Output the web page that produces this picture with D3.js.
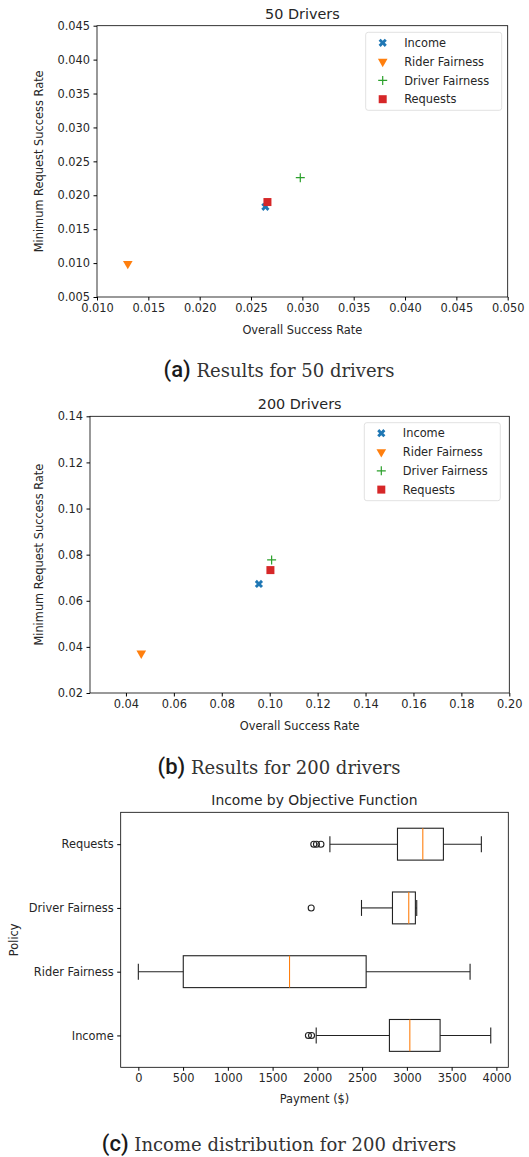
<!DOCTYPE html>
<html>
<head>
<meta charset="utf-8">
<script src="https://cdn.jsdelivr.net/npm/d3@7"></script>
<style>
  body { margin: 0; background: #fff; }
  svg text { font-family: "DejaVu Sans", sans-serif; fill: #262626; }
  .cap text { fill: #1a1a1a; }
</style>
</head>
<body>
<svg id="fig" width="529" height="1157"></svg>
<script>
// data
var policies = ["Income", "Rider Fairness", "Driver Fairness", "Requests"];
var colors = ["#1f77b4", "#ff7f0e", "#2ca02c", "#d62728"];
var shapes = ["X", "v", "+", "s"];

// 50 drivers: overall rate, min request rate
var overall50 = [0.0264, 0.0130, 0.0298, 0.0266];
var minreq50 = [0.0183, 0.0099, 0.0226, 0.0190];
var xticks50 = [0.010, 0.015, 0.020, 0.025, 0.030, 0.035, 0.040, 0.045, 0.050];
var yticks50 = [0.005, 0.010, 0.015, 0.020, 0.025, 0.030, 0.035, 0.040, 0.045];

// 200 drivers
var overall200 = [0.0955, 0.0464, 0.1008, 0.1003];
var minreq200 = [0.0673, 0.0372, 0.0777, 0.0733];
var xticks200 = [0.04, 0.06, 0.08, 0.10, 0.12, 0.14, 0.16, 0.18, 0.20];
var yticks200 = [0.02, 0.04, 0.06, 0.08, 0.10, 0.12, 0.14];

// box plot (bottom to top): whiskerLo, q1, median, q3, whiskerHi
var boxPolicies = ["Income", "Rider Fairness", "Driver Fairness", "Requests"];
var whiskLo = [1987, 0, 2493, 2140];
var q1 = [2805, 502, 2839, 2895];
var med = [3033, 1689, 3021, 3178];
var q3 = [3371, 2545, 3095, 3408];
var whiskHi = [3937, 3706, 3110, 3832];
var fliers = [[1900, 1935], [], [1931], [1960, 1990, 2040]];
var payTicks = [0, 500, 1000, 1500, 2000, 2500, 3000, 3500, 4000];

var fs = 11.4;   // tick / label size
var svg = d3.select("#fig");

function marker(g, shape, color, x, y) {
  if (shape == "X") {
    g.append("path").attr("transform", "translate(" + x + "," + y + ") rotate(45)")
      .attr("d", d3.symbol().type(d3.symbolCross).size(42)()).attr("fill", color);
  } else if (shape == "v") {
    g.append("path").attr("transform", "translate(" + x + "," + y + ") rotate(180)")
      .attr("d", d3.symbol().type(d3.symbolTriangle).size(40)()).attr("fill", color);
  } else if (shape == "+") {
    g.append("path").attr("d", "M" + (x - 4.5) + "," + y + "H" + (x + 4.5) + "M" + x + "," + (y - 4.5) + "V" + (y + 4.5))
      .attr("stroke", color).attr("stroke-width", 1.2).attr("fill", "none");
  } else {
    g.append("rect").attr("x", x - 4).attr("y", y - 4).attr("width", 8).attr("height", 8).attr("fill", color);
  }
}

function scatterPanel(o) {
  var g = svg.append("g");
  var x = d3.scaleLinear().domain(o.xdom).range([o.left, o.right]);
  var y = d3.scaleLinear().domain(o.ydom).range([o.bottom, o.top]);

  g.append("g").attr("transform", "translate(0," + o.bottom + ")")
    .call(d3.axisBottom(x).tickValues(o.xticks).tickFormat(d3.format(o.xfmt)).tickSizeOuter(0).tickSize(3.5).tickPadding(3));
  g.append("g").attr("transform", "translate(" + o.left + ",0)")
    .call(d3.axisLeft(y).tickValues(o.yticks).tickFormat(d3.format(o.yfmt)).tickSizeOuter(0).tickSize(3.5).tickPadding(3.5));
  g.selectAll(".tick text").attr("font-size", fs).attr("font-family", "DejaVu Sans").attr("fill", "#262626");
  g.selectAll(".domain").remove();
  g.append("rect").attr("x", o.left).attr("y", o.top).attr("width", o.right - o.left).attr("height", o.bottom - o.top)
    .attr("fill", "none").attr("stroke", "#000").attr("stroke-width", 0.8);

  g.append("text").attr("x", (o.left + o.right) / 2).attr("y", o.top - 7).attr("text-anchor", "middle")
    .attr("font-size", 14.4).text(o.title);
  g.append("text").attr("x", (o.left + o.right) / 2).attr("y", o.bottom + 37).attr("text-anchor", "middle")
    .attr("font-size", fs).text("Overall Success Rate");
  g.append("text").attr("transform", "translate(" + o.ylx + "," + ((o.top + o.bottom) / 2) + ") rotate(-90)")
    .attr("text-anchor", "middle").attr("font-size", fs).text("Minimum Request Success Rate");

  // points
  policies.forEach(function(p, i) {
    marker(g, shapes[i], colors[i], x(o.xs[i]), y(o.ys[i]));
  });

  // legend
  var lg = g.append("g");
  lg.append("rect").attr("x", o.legX).attr("y", o.legY).attr("width", 136).attr("height", 78)
    .attr("rx", 2.5).attr("fill", "#fff").attr("fill-opacity", 0.8).attr("stroke", "#d9d9d9").attr("stroke-width", 0.8);
  policies.forEach(function(p, i) {
    var ly = o.legY + 10.5 + i * 18.8;
    marker(lg, shapes[i], colors[i], o.legX + 17, ly);
    lg.append("text").attr("x", o.legX + 38.5).attr("y", ly + 4.2).attr("font-size", fs).text(p);
  });
}

scatterPanel({
  title: "50 Drivers", left: 97, right: 507.7, top: 25.7, bottom: 297,
  xdom: [0.010, 0.050], ydom: [0.005, 0.045], xticks: xticks50, yticks: yticks50,
  xfmt: ".3f", yfmt: ".3f", xs: overall50, ys: minreq50, ylx: 43, legX: 365.7, legY: 32.3
});

scatterPanel({
  title: "200 Drivers", left: 90, right: 509.3, top: 416.3, bottom: 693,
  xdom: [0.025, 0.20], ydom: [0.02, 0.14], xticks: xticks200, yticks: yticks200,
  xfmt: ".2f", yfmt: ".2f", xs: overall200, ys: minreq200, ylx: 43, legX: 364.3, legY: 422.7
});

// box plot
var bl = 120.7, br = 508.3, bt = 812.3, bb = 1067.3;
var bx = d3.scaleLinear().domain([-197, 4133]).range([bl, br]);
var by = d3.scaleLinear().domain([0.5, 4.5]).range([bb, bt]);
var bg = svg.append("g");

bg.append("g").attr("transform", "translate(0," + bb + ")")
  .call(d3.axisBottom(bx).tickValues(payTicks).tickFormat(d3.format("d")).tickSizeOuter(0).tickSize(3.5).tickPadding(3));
bg.append("g").attr("transform", "translate(" + bl + ",0)")
  .call(d3.axisLeft(by).tickValues([1, 2, 3, 4]).tickFormat(function(d) { return boxPolicies[d - 1]; }).tickSizeOuter(0).tickSize(3.5).tickPadding(3.5));
bg.selectAll(".tick text").attr("font-size", fs).attr("font-family", "DejaVu Sans").attr("fill", "#262626");
bg.selectAll(".domain").remove();
bg.append("rect").attr("x", bl).attr("y", bt).attr("width", br - bl).attr("height", bb - bt)
  .attr("fill", "none").attr("stroke", "#000").attr("stroke-width", 0.8);

var bh = (by(0) - by(0.25));
boxPolicies.forEach(function(p, i) {
  var cy = by(i + 1);
  var line = function(x1, y1, x2, y2, c, w) {
    bg.append("line").attr("x1", x1).attr("y1", y1).attr("x2", x2).attr("y2", y2)
      .attr("stroke", c || "#222").attr("stroke-width", w || 1.1);
  };
  line(bx(whiskLo[i]), cy, bx(q1[i]), cy);
  line(bx(q3[i]), cy, bx(whiskHi[i]), cy);
  line(bx(whiskLo[i]), cy - bh / 2, bx(whiskLo[i]), cy + bh / 2);
  line(bx(whiskHi[i]), cy - bh / 2, bx(whiskHi[i]), cy + bh / 2);
  bg.append("rect").attr("x", bx(q1[i])).attr("y", cy - bh).attr("width", bx(q3[i]) - bx(q1[i])).attr("height", 2 * bh)
    .attr("fill", "none").attr("stroke", "#222").attr("stroke-width", 1.1);
  line(bx(med[i]), cy - bh, bx(med[i]), cy + bh, "#ff7f0e", 1.1);
  fliers[i].forEach(function(f) {
    bg.append("circle").attr("cx", bx(f)).attr("cy", cy).attr("r", 3)
      .attr("fill", "none").attr("stroke", "#222").attr("stroke-width", 1.1);
  });
});

bg.append("text").attr("x", (bl + br) / 2).attr("y", bt - 7).attr("text-anchor", "middle")
  .attr("font-size", 13.9).text("Income by Objective Function");
bg.append("text").attr("x", (bl + br) / 2).attr("y", bb + 36).attr("text-anchor", "middle")
  .attr("font-size", fs).text("Payment ($)");
bg.append("text").attr("transform", "translate(18," + ((bt + bb) / 2) + ") rotate(-90)")
  .attr("text-anchor", "middle").attr("font-size", fs).text("Policy");

// captions
var caps = [["(a)", " Results for 50 drivers", 377], ["(b)", " Results for 200 drivers", 774], ["(c)", " Income distribution for 200 drivers", 1151]];
caps.forEach(function(c) {
  var t = svg.append("g").attr("class", "cap").append("text").attr("x", 279).attr("y", c[2]).attr("text-anchor", "middle");
  t.append("tspan").attr("font-family", "Roboto").attr("font-weight", 500).attr("font-size", 22).text(c[0]);
  t.append("tspan").attr("font-family", "DejaVu Serif").attr("font-size", 18).attr("fill", "#333").text(c[1]);
});
</script>
</body>
</html>
